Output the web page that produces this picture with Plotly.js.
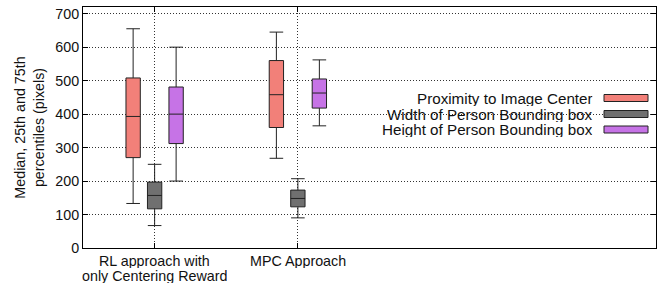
<!DOCTYPE html>
<html>
<head>
<meta charset="utf-8">
<script src="https://cdn.plot.ly/plotly-3.0.1.min.js"></script>
<style>html,body{margin:0;padding:0;background:#fff;}#chart{width:667px;height:286px;}</style>
</head>
<body>
<div id="chart"></div>
<script>
var categories = ["RL approach with<br>only Centering Reward", "MPC Approach"];
var seriesNames = ["Proximity to Image Center", "Width of Person Bounding box", "Height of Person Bounding box"];
var seriesColors = ["#F28079", "#707070", "#C673E6"];
// per series: [RL, MPC]
var lowerWhisker = [[133, 268], [67, 90], [200, 365]];
var q1Values = [[270, 360], [117, 123], [312, 418]];
var medianValues = [[393, 458], [157, 148], [400, 463]];
var q3Values = [[508, 560], [197, 173], [481, 505]];
var upperWhisker = [[655, 645], [250, 207], [600, 562]];
var yTicks = [0, 100, 200, 300, 400, 500, 600, 700];

var FONT = "Liberation Sans, Arial, sans-serif";
var traces = seriesNames.map(function(name, i) {
  return {
    type: "box",
    name: name,
    x: categories,
    q1: q1Values[i],
    median: medianValues[i],
    q3: q3Values[i],
    lowerfence: lowerWhisker[i],
    upperfence: upperWhisker[i],
    fillcolor: seriesColors[i],
    line: {color: "#222222", width: 1},
    whiskerwidth: 0.95,
    boxpoints: false,
    showlegend: false,
    hoverinfo: "skip"
  };
});

var L = 83, R = 11, T = 7, B = 38, W = 667, H = 286;
var pw = W - L - R, ph = H - T - B;
function px2x(p) { return (p - L) / pw; }
function py2y(p) { return 1 - (p - T) / ph; }

var annotations = [], shapes = [];
// white legend background covering grid lines
shapes.push({
  type: "rect", xref: "paper", yref: "paper", layer: "between",
  x0: px2x(340), x1: px2x(655), y0: py2y(139), y1: py2y(87),
  fillcolor: "#ffffff", line: {width: 0}
});
var rowY = [98, 114, 129.5];
seriesNames.forEach(function(name, i) {
  annotations.push({
    xref: "paper", yref: "paper", x: px2x(594), y: py2y(rowY[i]),
    xanchor: "right", yanchor: "middle", showarrow: false,
    height: 15, borderpad: 0,
    text: name, font: {family: FONT, size: 15.2, color: "#111"}
  });
  shapes.push({
    type: "rect", xref: "paper", yref: "paper",
    x0: px2x(604), x1: px2x(648), y0: py2y(rowY[i] + 3.5), y1: py2y(rowY[i] - 3.5),
    fillcolor: seriesColors[i], line: {color: "#222", width: 1}
  });
});
// category tick labels (multi-line, tighter line spacing than plotly's default)
var lineY = [261, 275.5];
categories.forEach(function(cat, ci) {
  cat.split("<br>").forEach(function(line, li) {
    annotations.push({
      xref: "x", yref: "paper", x: cat, y: py2y(lineY[li]),
      xanchor: "center", yanchor: "middle", showarrow: false,
      height: 14, borderpad: 0,
      text: line, font: {family: FONT, size: 14.3, color: "#111"}
    });
  });
});

var layout = {
  width: W, height: H,
  margin: {l: L, r: R, t: T, b: B, pad: 0},
  paper_bgcolor: "#fff", plot_bgcolor: "#fff",
  showlegend: false,
  boxmode: "group",
  boxgap: 0.55,
  boxgroupgap: 0.333,
  font: {family: FONT, size: 14.3, color: "#111"},
  xaxis: {
    type: "category",
    range: [-0.5, 3.5],
    showline: true, mirror: "ticks", linecolor: "#000", linewidth: 1,
    ticks: "inside", ticklen: 5, tickcolor: "#000",
    showticklabels: false,
    showgrid: true, gridcolor: "#333", griddash: "1px,2px", gridwidth: 1,
    zeroline: false,
    fixedrange: true
  },
  yaxis: {
    range: [0, 720],
    tickvals: yTicks,
    ticktext: yTicks.map(String),
    showline: true, mirror: "ticks", linecolor: "#000", linewidth: 1,
    ticks: "inside", ticklen: 5, tickcolor: "#000",
    showgrid: true, gridcolor: "#333", griddash: "1px,2px", gridwidth: 1,
    zeroline: false,
    tickfont: {family: FONT, size: 14.3, color: "#111"},
    title: {text: "Median, 25th and 75th<br>percentiles (pixels)", font: {family: FONT, size: 14.3, color: "#111"}, standoff: 7},
    fixedrange: true
  },
  annotations: annotations,
  shapes: shapes
};

Plotly.newPlot("chart", traces, layout, {staticPlot: true, displayModeBar: false});
</script>
</body>
</html>
